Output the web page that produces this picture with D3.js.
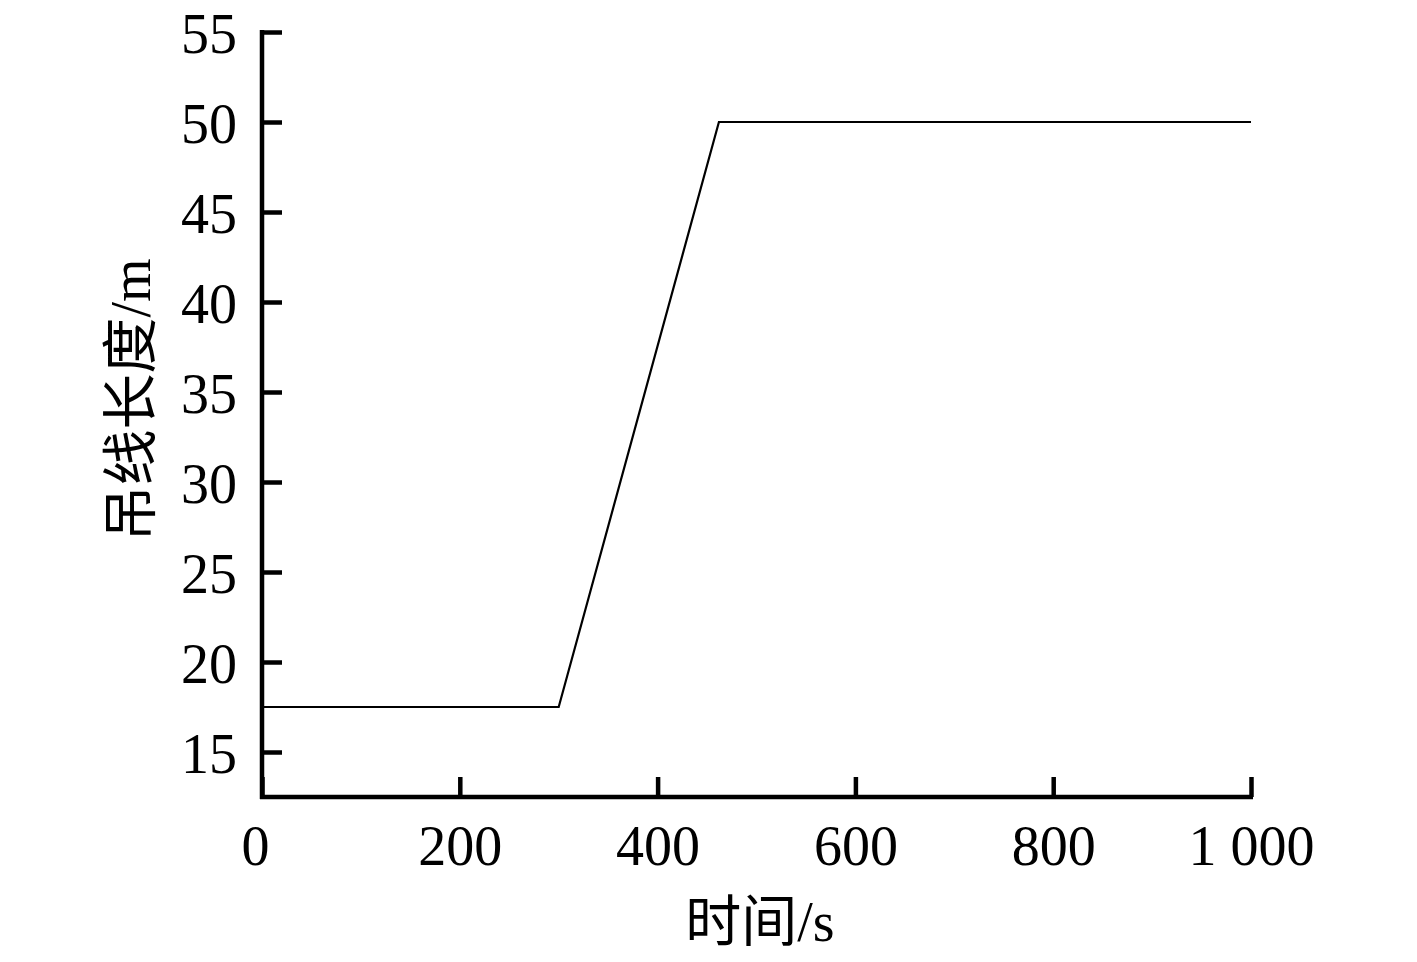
<!DOCTYPE html>
<html>
<head>
<meta charset="utf-8">
<script src="https://cdn.jsdelivr.net/npm/d3@7"></script>
<style>
  body { margin: 0; background: #fff; }
  svg { display: block; }
  .axis text { font-family: "Liberation Serif", "Times New Roman", serif; font-size: 56px; fill: #000; }
  .axis path, .axis line { stroke: #000; stroke-width: 4.5; }
  .title { font-family: "Liberation Serif", "Noto Sans CJK SC", serif; font-size: 56px; fill: #000; }
</style>
</head>
<body>
<svg id="chart" width="1417" height="962"></svg>
<script>
// time (s) and cable length (m)
const times = [0, 300, 462, 1000];
const lengths = [17.5, 17.5, 50, 50];
const xTicks = [0, 200, 400, 600, 800, 1000];
const yTicks = [15, 20, 25, 30, 35, 40, 45, 50, 55];
const xLabel = "时间/s";
const yLabel = "吊线长度/m";

const svg = d3.select("#chart");

const x = d3.scaleLinear().domain([0, 1000]).range([262, 1251]);
const y = d3.scaleLinear().domain([12.5, 55]).range([797, 32]);

const fmt = d3.formatLocale({ decimal: ".", thousands: " ", grouping: [3], currency: ["", ""] }).format(",d");

// x axis, ticks pointing inward
const gx = svg.append("g")
  .attr("class", "axis")
  .attr("transform", "translate(0,797)")
  .call(d3.axisBottom(x).tickValues(xTicks).tickFormat(fmt).tickSizeInner(-20).tickSizeOuter(0));
gx.select(".domain").attr("d", "M" + (x(0) - 2) + ",0H" + (x(1000) + 2));
gx.selectAll("text").attr("y", 68).attr("dy", 0);
gx.select(".tick text").attr("dx", -7);

// y axis
const gy = svg.append("g")
  .attr("class", "axis")
  .attr("transform", "translate(262,0)")
  .call(d3.axisLeft(y).tickValues(yTicks).tickSizeInner(-20).tickSizeOuter(0).tickPadding(25));
gy.select(".domain").attr("d", "M0," + (y(12.5) + 2) + "V30");
gy.selectAll("text").attr("dy", "0.36em");

// the series
const line = d3.line()
  .x((d, i) => x(times[i]))
  .y((d) => y(d));

svg.append("path")
  .datum(lengths)
  .attr("fill", "none")
  .attr("stroke", "#000")
  .attr("stroke-width", 2.2)
  .attr("d", line);

// axis titles
svg.append("text")
  .attr("class", "title")
  .attr("x", 760)
  .attr("y", 941)
  .attr("text-anchor", "middle")
  .text(xLabel);

svg.append("text")
  .attr("class", "title")
  .attr("transform", "translate(150,400) rotate(-90)")
  .attr("text-anchor", "middle")
  .text(yLabel);
</script>
</body>
</html>
